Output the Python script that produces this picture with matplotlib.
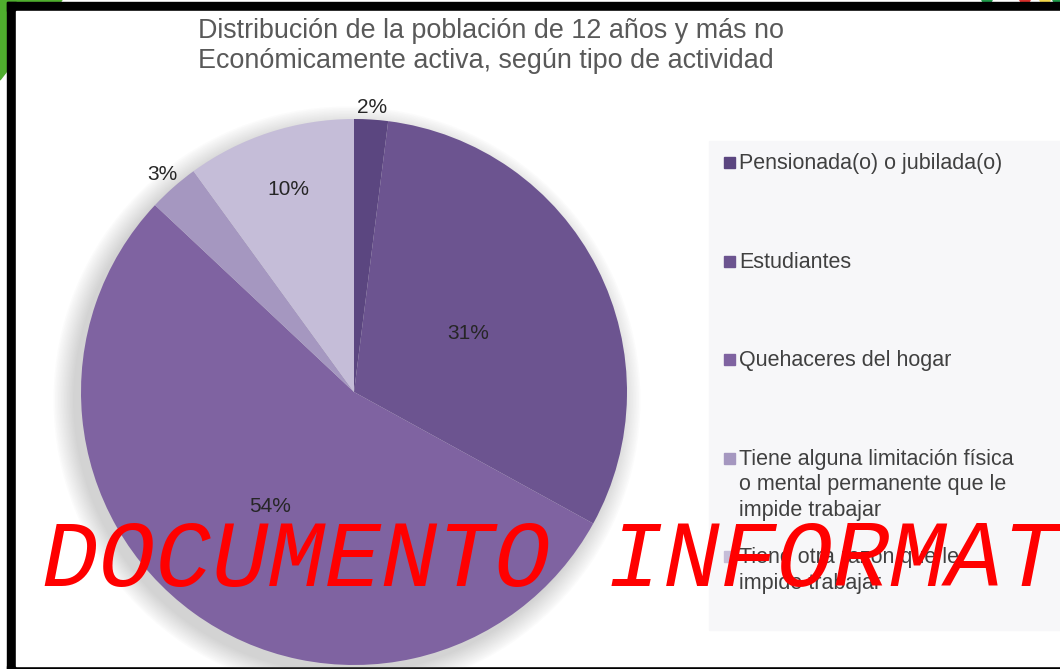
import numpy as np
import matplotlib
matplotlib.use("Agg")
import matplotlib.pyplot as plt
from matplotlib.patches import Rectangle, Polygon, Circle, Ellipse

# ---- data ----
categories = [
    "Pensionada(o) o jubilada(o)",
    "Estudiantes",
    "Quehaceres del hogar",
    "Tiene alguna limitación física\no mental permanente que le\nimpide trabajar",
    "Tiene otra razón que le\nimpide trabajar",
]
values = [2, 31, 54, 3, 10]
pct_labels = ["2%", "31%", "54%", "3%", "10%"]
title_lines = ["Distribución de la población de 12 años y más no",
               "Económicamente activa, según tipo de actividad"]
watermark = "DOCUMENTO INFORMATIVO"

# ---- style ----
colors = ["#5b4680", "#6c5490", "#7f63a1", "#a597c0", "#c5bdd8"]
label_dist = [1.045, 0.47, 0.52, 1.06, 0.78]

W, H = 1060, 669
fig = plt.figure(figsize=(W / 100, H / 100), dpi=100)
fig.patch.set_facecolor("white")

def fx(px):
    return px / W

def fy(py):
    return 1 - py / H

# background overlay axes (pixel coordinates, y down)
bg = fig.add_axes([0, 0, 1, 1])
bg.set_xlim(0, W)
bg.set_ylim(H, 0)
bg.axis("off")

# green corner and dots outside the frame
bg.add_patch(Polygon([[0, 0], [62, 0], [0, 80]], closed=True, color="#4fae2e", zorder=0))
for cx_, c in [(987, "#1f9a4a"), (1025, "#d9302c"), (1045, "#f2d64b"), (1058, "#1f9a4a")]:
    bg.add_patch(Ellipse((cx_, 0), 10, 6, color=c, zorder=0))

# black frame
bg.add_patch(Rectangle((7, 2), W, 9, color="black", zorder=1))
bg.add_patch(Rectangle((7, 2), 9, H, color="black", zorder=1))
bg.add_patch(Rectangle((7, 666), W, 5, color="black", zorder=1))
bg.add_patch(Rectangle((16, 11), W, 655, color="white", zorder=1))

# legend background box
bg.add_patch(Rectangle((709, 141), W - 709, 489, color="#f7f7f9", zorder=2))

# pie shadow (soft glow, toward lower-left)
cx, cy, R = 354, 392, 273
for i in range(14):
    bg.add_patch(Circle((cx - 7, cy + 8), R + 1 + i * 1.5, color="#7a7a7a",
                        alpha=0.022, lw=0, zorder=2))

# pie axes
ax = fig.add_axes([fx(cx - R), fy(cy + R), 2 * R / W, 2 * R / H])
ax.set_zorder(3)
ax.patch.set_alpha(0)
wedges, _ = ax.pie(values, colors=colors, startangle=90, counterclock=False,
                   wedgeprops=dict(linewidth=0))
ax.set_xlim(-1, 1)
ax.set_ylim(-1, 1)
ax.set_aspect("auto")

for w, lab, d in zip(wedges, pct_labels, label_dist):
    ang = np.deg2rad((w.theta1 + w.theta2) / 2)
    ax.text(d * np.cos(ang), d * np.sin(ang), lab, ha="center", va="center",
            fontsize=15, color="#262626", family="Liberation Sans", clip_on=False)

# title
fig.text(fx(198), fy(31), title_lines[0], ha="left", va="center",
         fontsize=19.4, color="#595959", family="Liberation Sans")
fig.text(fx(198), fy(61), title_lines[1], ha="left", va="center",
         fontsize=19.4, color="#595959", family="Liberation Sans")

# legend (manual)
top = 163
step = 98.5
for i, (lab, c) in enumerate(zip(categories, colors)):
    y = top + i * step
    bg.add_patch(Rectangle((724, y - 6), 11, 11, color=c, zorder=4))
    bg.text(739, y - 10, lab, ha="left", va="top", fontsize=15.5, color="#404040",
            family="Liberation Sans", linespacing=1.29, zorder=4)

# watermark
fig.text(fx(42), fy(586), watermark, ha="left", va="baseline", fontsize=67.8,
         color="#ff0000", family="Liberation Mono", style="italic", zorder=10)

fig.savefig("out.png", dpi=100)
